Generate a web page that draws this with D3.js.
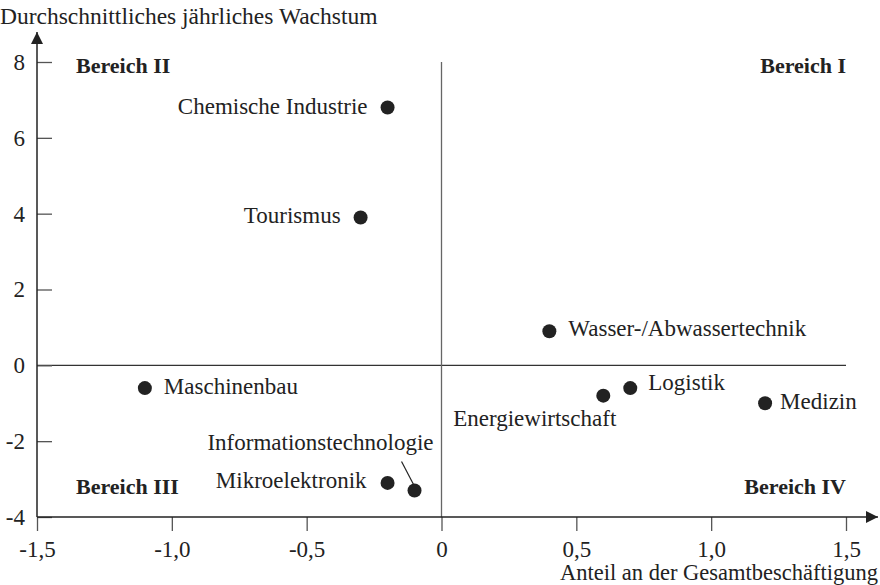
<!DOCTYPE html>
<html>
<head>
<meta charset="utf-8">
<script src="https://cdn.jsdelivr.net/npm/d3@7"></script>
<style>
  body { margin: 0; background: #fff; }
  svg text { font-family: "Liberation Serif", "DejaVu Serif", serif; fill: #222; }
</style>
</head>
<body>
<div id="viz"></div>
<script>
/* Branchen-Portfolio: Wachstum vs. Anteil an der Beschaeftigung */

var branchen = ['Chemische Industrie', 'Tourismus', 'Wasser-/Abwassertechnik', 'Maschinenbau',
                'Energiewirtschaft', 'Logistik', 'Medizin', 'Mikroelektronik', 'Informationstechnologie'];
var anteil   = [-0.2, -0.3, 0.4, -1.1, 0.6, 0.7, 1.2, -0.2, -0.1];
var wachstum = [6.8, 3.9, 0.9, -0.6, -0.8, -0.6, -1.0, -3.1, -3.3];

var xTicks = [-1.5, -1.0, -0.5, 0, 0.5, 1.0, 1.5];
var yTicks = [-4, -2, 0, 2, 4, 6, 8];

var bereiche = ['Bereich I', 'Bereich II', 'Bereich III', 'Bereich IV'];

// label placement (anchor, dx, dy relative to the dot)
var labelPos = [
  ['end', -20, 6], ['end', -20, 6], ['start', 19, 5], ['start', 19, 6],
  ['end', 13, 30], ['start', 18, 2], ['start', 15, 6], ['end', -21, 5], ['end', 19, -40]
];

var width = 880, height = 585;

var x = d3.scaleLinear().domain([-1.5, 1.5]).range([37, 846]);
var y = d3.scaleLinear().domain([-4, 8]).range([517, 62]);

// German decimal comma, plain hyphen as minus
var fmtX = function(d) {
  return d === 0 ? '0' : d.toFixed(1).replace('.', ',');
};
var fmtY = function(d) { return String(d); };

var svg = d3.select('#viz').append('svg')
    .attr('width', width)
    .attr('height', height);

var defs = svg.append('defs');
defs.append('marker')
    .attr('id', 'arrow')
    .attr('viewBox', '0 0 10 10')
    .attr('refX', 10)
    .attr('refY', 5)
    .attr('markerWidth', 18)
    .attr('markerHeight', 12)
    .attr('markerUnits', 'userSpaceOnUse')
    .attr('orient', 'auto')
  .append('path')
    .attr('d', 'M0,0L10,5L0,10Z')
    .attr('fill', '#222');

// zero lines
svg.append('line')
    .attr('x1', x(-1.5)).attr('x2', x(1.5))
    .attr('y1', y(0)).attr('y2', y(0))
    .attr('stroke', '#333').attr('stroke-width', 1.3);

svg.append('line')
    .attr('x1', x(0)).attr('x2', x(0))
    .attr('y1', y(8)).attr('y2', y(-4))
    .attr('stroke', '#666').attr('stroke-width', 1.3);

// axes
var xAxis = d3.axisBottom(x)
    .tickValues(xTicks)
    .tickFormat(fmtX)
    .tickSize(14)
    .tickPadding(10);

var yAxis = d3.axisLeft(y)
    .tickValues(yTicks)
    .tickFormat(fmtY)
    .tickSize(-15)
    .tickPadding(12);

var gx = svg.append('g')
    .attr('transform', 'translate(0,' + y(-4) + ')')
    .call(xAxis);

var gy = svg.append('g')
    .attr('transform', 'translate(' + x(-1.5) + ',0)')
    .call(yAxis);

[gx, gy].forEach(function(g) {
  g.select('.domain').remove();
  g.selectAll('.tick line').attr('stroke', '#555').attr('stroke-width', 1.3);
  g.selectAll('.tick text')
    .attr('font-family', '"Liberation Serif", serif')
    .attr('font-size', 23)
    .attr('fill', '#222');
});

// axis lines with arrows
svg.append('line')
    .attr('x1', x(-1.5)).attr('x2', 878)
    .attr('y1', y(-4)).attr('y2', y(-4))
    .attr('stroke', '#222').attr('stroke-width', 1.5)
    .attr('marker-end', 'url(#arrow)');

svg.append('line')
    .attr('x1', x(-1.5)).attr('x2', x(-1.5))
    .attr('y1', y(-4)).attr('y2', 32)
    .attr('stroke', '#222').attr('stroke-width', 1.5)
    .attr('marker-end', 'url(#arrow)');

// axis titles
svg.append('text')
    .attr('x', 0).attr('y', 24)
    .attr('font-size', 23.5)
    .text('Durchschnittliches jährliches Wachstum');

svg.append('text')
    .attr('x', 878).attr('y', 580)
    .attr('text-anchor', 'end')
    .attr('font-size', 22.5)
    .text('Anteil an der Gesamtbeschäftigung');

// quadrant labels
var quad = [
  { t: bereiche[0], x: x(1.5), y: y(8), a: 'end' },
  { t: bereiche[1], x: x(-1.5) + 39, y: y(8), a: 'start' },
  { t: bereiche[2], x: x(-1.5) + 39, y: y(-4), a: 'start' },
  { t: bereiche[3], x: x(1.5), y: y(-4), a: 'end' }
];

svg.append('g').selectAll('text')
  .data(quad)
  .enter().append('text')
    .attr('x', function(d) { return d.x; })
    .attr('y', function(d, i) { return i < 2 ? d.y + 11 : d.y - 23; })
    .attr('text-anchor', function(d) { return d.a; })
    .attr('font-size', 22)
    .attr('font-weight', 'bold')
    .text(function(d) { return d.t; });

// points
var pts = branchen.map(function(name, i) {
  return { name: name, x: anteil[i], y: wachstum[i], pos: labelPos[i] };
});

// leader line for Informationstechnologie
var info = pts[8];
svg.append('line')
    .attr('x1', x(info.x) - 13).attr('y1', y(info.y) - 29)
    .attr('x2', x(info.x) - 1).attr('y2', y(info.y) - 6)
    .attr('stroke', '#222').attr('stroke-width', 1.2);

svg.append('g').selectAll('circle')
  .data(pts)
  .enter().append('circle')
    .attr('cx', function(d) { return x(d.x); })
    .attr('cy', function(d) { return y(d.y); })
    .attr('r', 7)
    .attr('fill', '#222');

svg.append('g').selectAll('text')
  .data(pts)
  .enter().append('text')
    .attr('x', function(d) { return x(d.x) + d.pos[1]; })
    .attr('y', function(d) { return y(d.y) + d.pos[2]; })
    .attr('text-anchor', function(d) { return d.pos[0]; })
    .attr('font-size', 23)
    .text(function(d) { return d.name; });
</script>
</body>
</html>
